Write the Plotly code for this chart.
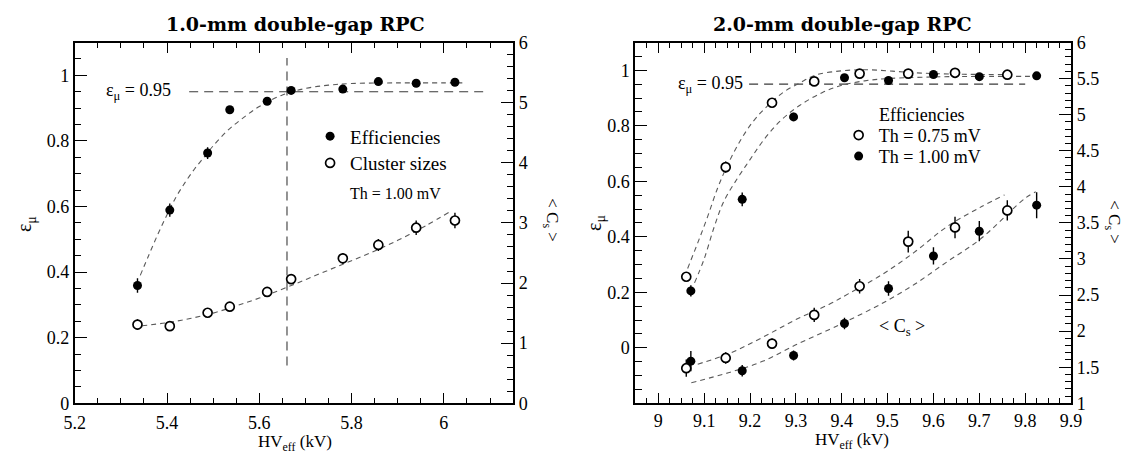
import plotly.graph_objects as go

W, H = 1135, 464
SERIF = "Liberation Serif"
TITLE_FONT = "DejaVu Serif"

# ---- 1.0-mm double-gap RPC (Th = 1.00 mV) ----
hv_1mm = [5.336, 5.406, 5.488, 5.536, 5.617, 5.669, 5.781, 5.858, 5.940, 6.024]
eff_1mm = [0.359, 0.589, 0.763, 0.895, 0.921, 0.954, 0.958, 0.981, 0.976, 0.979]
eff_err_1mm = [0.022, 0.02, 0.018, 0.01, 0.01, 0.01, 0.008, 0.008, 0.008, 0.008]
cs_1mm = [1.309, 1.283, 1.506, 1.607, 1.852, 2.065, 2.411, 2.634, 2.92, 3.04]
cs_err_1mm = [0.09, 0.06, 0.06, 0.06, 0.07, 0.08, 0.09, 0.1, 0.12, 0.13]

fit_hv_eff_1mm = [5.342, 5.36, 5.38, 5.40, 5.42, 5.44, 5.46, 5.48, 5.50, 5.53,
                  5.56, 5.60, 5.65, 5.70, 5.75, 5.80, 5.90, 6.00, 6.04]
fit_eff_1mm = [0.39, 0.45, 0.515, 0.575, 0.63, 0.675, 0.715, 0.75, 0.785, 0.83,
               0.865, 0.905, 0.94, 0.96, 0.97, 0.975, 0.977, 0.977, 0.977]
fit_hv_cs_1mm = [5.346, 5.40, 5.45, 5.50, 5.55, 5.60, 5.66, 5.72, 5.78, 5.84, 5.90, 5.96, 6.014]
fit_cs_1mm = [1.29, 1.34, 1.41, 1.50, 1.62, 1.75, 1.93, 2.12, 2.31, 2.50, 2.71, 2.95, 3.19]

# ---- 2.0-mm double-gap RPC ----
hv_075 = [9.061, 9.147, 9.248, 9.340, 9.439, 9.545, 9.647, 9.761]
eff_075 = [0.256, 0.651, 0.883, 0.960, 0.988, 0.988, 0.991, 0.984]
eff_err_075 = [0.015, 0.02, 0.01, 0.008, 0.008, 0.008, 0.008, 0.008]
cs_075 = [1.486, 1.628, 1.827, 2.225, 2.622, 3.241, 3.437, 3.673]
cs_err_075 = [0.12, 0.08, 0.07, 0.1, 0.1, 0.15, 0.15, 0.14]

hv_100 = [9.071, 9.183, 9.295, 9.406, 9.502, 9.600, 9.700, 9.825]
eff_100 = [0.205, 0.535, 0.832, 0.973, 0.963, 0.985, 0.977, 0.980]
eff_err_100 = [0.02, 0.025, 0.015, 0.01, 0.008, 0.008, 0.008, 0.008]
cs_100 = [1.584, 1.451, 1.663, 2.105, 2.591, 3.042, 3.385, 3.746]
cs_err_100 = [0.14, 0.08, 0.07, 0.08, 0.1, 0.12, 0.14, 0.18]

fit_hv_eff_075 = [9.064, 9.086, 9.107, 9.129, 9.15, 9.179, 9.207, 9.236, 9.272, 9.308,
                  9.343, 9.40, 9.45, 9.50, 9.55, 9.60, 9.65, 9.70, 9.76]
fit_eff_075 = [0.286, 0.378, 0.47, 0.574, 0.655, 0.747, 0.816, 0.868, 0.92, 0.954,
               0.983, 0.998, 1.002, 0.998, 0.992, 0.988, 0.986, 0.985, 0.985]
fit_hv_eff_100 = [9.079, 9.10, 9.122, 9.143, 9.172, 9.20, 9.229, 9.265, 9.308, 9.358,
                  9.40, 9.45, 9.50, 9.60, 9.70, 9.83]
fit_eff_100 = [0.234, 0.32, 0.436, 0.528, 0.609, 0.678, 0.747, 0.816, 0.873, 0.92,
               0.946, 0.962, 0.97, 0.976, 0.978, 0.978]
fit_hv_cs_075 = [9.086, 9.157, 9.229, 9.30, 9.372, 9.415, 9.487, 9.558, 9.629, 9.701, 9.755]
fit_cs_075 = [1.542, 1.696, 1.919, 2.16, 2.37, 2.52, 2.78, 3.092, 3.446, 3.712, 3.888]
fit_hv_cs_100 = [9.072, 9.157, 9.229, 9.30, 9.372, 9.415, 9.487, 9.558, 9.629, 9.701, 9.80, 9.823]
fit_cs_100 = [1.285, 1.431, 1.585, 1.81, 2.02, 2.15, 2.38, 2.646, 2.958, 3.269, 3.842, 3.931]

# reference efficiency level and operating point
EFF_REF = 0.95
ref_hv_1mm = [5.448, 6.093]
ref_hv_2mm = [9.198, 9.80]
op_hv_1mm = 5.66
op_eff_span = [0.115, 1.053]

# panel boxes in pixels (left, right, top, bottom)
BOX1 = (65, 512, 34, 411)
BOX2 = (636.7, 1081, 34, 411)


def xd(box):
    return [box[0] / W, box[1] / W]


def yd(box):
    return [1 - box[3] / H, 1 - box[2] / H]


fig = go.Figure()

FIT = dict(color="#5a5a5a", width=1.1, dash="5px,4px")
REF = dict(color="#3a3a3a", width=1.1, dash="9px,6px")
ERR = dict(type="data", thickness=1.4, width=0, color="black")
FILLED = dict(symbol="circle", size=9, color="black")
OPEN = dict(symbol="circle", size=9, color="white", line=dict(color="black", width=1.7))

# left panel
fig.add_trace(go.Scatter(x=fit_hv_eff_1mm, y=fit_eff_1mm, mode="lines", line=FIT, line_shape="spline",
                         showlegend=False, xaxis="x", yaxis="y"))
fig.add_trace(go.Scatter(x=ref_hv_1mm, y=[EFF_REF, EFF_REF], mode="lines", line=REF,
                         showlegend=False, xaxis="x", yaxis="y"))
fig.add_trace(go.Scatter(x=[op_hv_1mm, op_hv_1mm], y=op_eff_span, mode="lines", line=REF,
                         showlegend=False, xaxis="x", yaxis="y"))
fig.add_trace(go.Scatter(x=hv_1mm, y=eff_1mm, mode="markers", marker=FILLED,
                         error_y=dict(ERR, array=eff_err_1mm), name="Efficiencies",
                         legend="legend", xaxis="x", yaxis="y"))
fig.add_trace(go.Scatter(x=fit_hv_cs_1mm, y=fit_cs_1mm, mode="lines", line=FIT, line_shape="spline",
                         showlegend=False, xaxis="x", yaxis="y2"))
fig.add_trace(go.Scatter(x=hv_1mm, y=cs_1mm, mode="markers", marker=OPEN,
                         error_y=dict(ERR, array=cs_err_1mm), name="Cluster sizes",
                         legend="legend2", xaxis="x", yaxis="y2"))

# right panel
fig.add_trace(go.Scatter(x=ref_hv_2mm, y=[EFF_REF, EFF_REF], mode="lines", line=REF,
                         showlegend=False, xaxis="x2", yaxis="y3"))
fig.add_trace(go.Scatter(x=fit_hv_eff_075, y=fit_eff_075, mode="lines", line=FIT, line_shape="spline",
                         showlegend=False, xaxis="x2", yaxis="y3"))
fig.add_trace(go.Scatter(x=fit_hv_eff_100, y=fit_eff_100, mode="lines", line=FIT, line_shape="spline",
                         showlegend=False, xaxis="x2", yaxis="y3"))
fig.add_trace(go.Scatter(x=hv_075, y=eff_075, mode="markers", marker=OPEN,
                         error_y=dict(ERR, array=eff_err_075), name="Th = 0.75 mV",
                         legend="legend3", xaxis="x2", yaxis="y3"))
fig.add_trace(go.Scatter(x=hv_100, y=eff_100, mode="markers", marker=FILLED,
                         error_y=dict(ERR, array=eff_err_100), name="Th = 1.00 mV",
                         legend="legend4", xaxis="x2", yaxis="y3"))
fig.add_trace(go.Scatter(x=fit_hv_cs_075, y=fit_cs_075, mode="lines", line=FIT, line_shape="spline",
                         showlegend=False, xaxis="x2", yaxis="y4"))
fig.add_trace(go.Scatter(x=fit_hv_cs_100, y=fit_cs_100, mode="lines", line=FIT, line_shape="spline",
                         showlegend=False, xaxis="x2", yaxis="y4"))
fig.add_trace(go.Scatter(x=hv_075, y=cs_075, mode="markers", marker=OPEN,
                         error_y=dict(ERR, array=cs_err_075), showlegend=False,
                         xaxis="x2", yaxis="y4"))
fig.add_trace(go.Scatter(x=hv_100, y=cs_100, mode="markers", marker=FILLED,
                         error_y=dict(ERR, array=cs_err_100), showlegend=False,
                         xaxis="x2", yaxis="y4"))

TICKFONT = dict(family=SERIF, size=18, color="black")


def xaxis(box, rng, tick0, dtick, minor, anchor, standoff=0):
    return dict(domain=xd(box), range=rng, anchor=anchor, tick0=tick0, dtick=dtick,
                ticks="inside", ticklen=10, tickwidth=1.2, tickcolor="black",
                ticklabelstandoff=standoff,
                minor=dict(ticks="inside", ticklen=5.5, tickwidth=1.2, tickcolor="black",
                           tick0=tick0, dtick=minor, showgrid=False),
                showline=True, linewidth=2, linecolor="black", mirror="ticks",
                showgrid=False, zeroline=False, tickfont=TICKFONT)


def yaxis(box, rng, tickvals, minor, anchor, side="left", overlaying=None):
    d = dict(domain=yd(box), range=rng, anchor=anchor, side=side,
             tickmode="array", tickvals=tickvals,
             ticks="inside", ticklen=12, tickwidth=1.2, tickcolor="black",
             minor=dict(tickmode="linear", tick0=0, dtick=minor, ticks="inside", ticklen=6.5,
                        tickwidth=1.2, tickcolor="black", showgrid=False),
             showline=True, linewidth=2, linecolor="black",
             showgrid=False, zeroline=False, tickfont=TICKFONT)
    if overlaying:
        d["overlaying"] = overlaying
    return d


def legend_at(px_left, px_y, size):
    return dict(x=px_left / W, y=1 - px_y / H, xanchor="left", yanchor="middle",
                bgcolor="rgba(0,0,0,0)", borderwidth=0,
                font=dict(family=SERIF, size=size, color="black"))


fig.update_layout(
    width=W, height=H, autosize=False,
    margin=dict(l=0, r=0, t=0, b=0),
    paper_bgcolor="white", plot_bgcolor="white",
    xaxis=xaxis(BOX1, [5.2, 6.15], 5.2, 0.2, 0.05, "y", standoff=2),
    yaxis=yaxis(BOX1, [0, 1.1], [0, 0.2, 0.4, 0.6, 0.8, 1.0], 0.05, "x"),
    yaxis2=yaxis(BOX1, [0, 6], [0, 1, 2, 3, 4, 5, 6], 0.2, "x", side="right", overlaying="y"),
    xaxis2=xaxis(BOX2, [8.95, 9.9], 9.0, 0.1, 0.025, "y3"),
    yaxis3=yaxis(BOX2, [-0.2, 1.1], [0, 0.2, 0.4, 0.6, 0.8, 1.0], 0.05, "x2"),
    yaxis4=yaxis(BOX2, [1, 6], [1, 1.5, 2, 2.5, 3, 3.5, 4, 4.5, 5, 5.5, 6], 0.1, "x2",
                 side="right", overlaying="y3"),
    legend=legend_at(305, 132, 19),
    legend2=legend_at(305, 160, 19),
    legend3=legend_at(844, 131, 18),
    legend4=legend_at(844, 153, 18),
)

ann = []


def paper_text(text, px_x, px_y, size, family=SERIF, angle=0):
    ann.append(dict(text=text, x=px_x / W, y=1 - px_y / H, xref="paper", yref="paper",
                    xanchor="center", yanchor="middle", showarrow=False, textangle=angle,
                    font=dict(family=family, size=size, color="black")))


paper_text("<b>1.0-mm double-gap RPC</b>", 290, 15, 19, family=TITLE_FONT)
paper_text("<b>2.0-mm double-gap RPC</b>", 848, 15, 19, family=TITLE_FONT)
paper_text("HV<sub>eff</sub> (kV)", 290, 453, 17)
paper_text("HV<sub>eff</sub> (kV)", 858, 450, 17)
paper_text("ε<sub>μ</sub>", 15, 224, 20, angle=-90)
paper_text("ε<sub>μ</sub>", 596, 222, 20, angle=-90)
paper_text("< C<sub>s</sub> >", 551, 220, 17, angle=90)
paper_text("< C<sub>s</sub> >", 1123, 222, 17, angle=90)

# in-plot labels
ann.append(dict(text="ε<sub>μ</sub> = 0.95", x=5.412, y=EFF_REF, xref="x", yref="y",
                xanchor="right", yanchor="middle", showarrow=False,
                font=dict(family=SERIF, size=18, color="black")))
ann.append(dict(text="ε<sub>μ</sub> = 0.95", x=9.19, y=EFF_REF, xref="x2", yref="y3",
                xanchor="right", yanchor="middle", showarrow=False,
                font=dict(family=SERIF, size=18, color="black")))
ann.append(dict(text="Th = 1.00 mV", x=5.895, y=0.64, xref="x", yref="y",
                xanchor="center", yanchor="middle", showarrow=False,
                font=dict(family=SERIF, size=16, color="black")))
ann.append(dict(text="Efficiencies", x=9.476, y=0.839, xref="x2", yref="y3",
                xanchor="left", yanchor="middle", showarrow=False,
                font=dict(family=SERIF, size=18, color="black")))
ann.append(dict(text="< C<sub>s</sub> >", x=9.532, y=0.073, xref="x2", yref="y3",
                xanchor="center", yanchor="middle", showarrow=False,
                font=dict(family=SERIF, size=18, color="black")))

fig.update_layout(annotations=ann)
fig.write_html("out.html")
